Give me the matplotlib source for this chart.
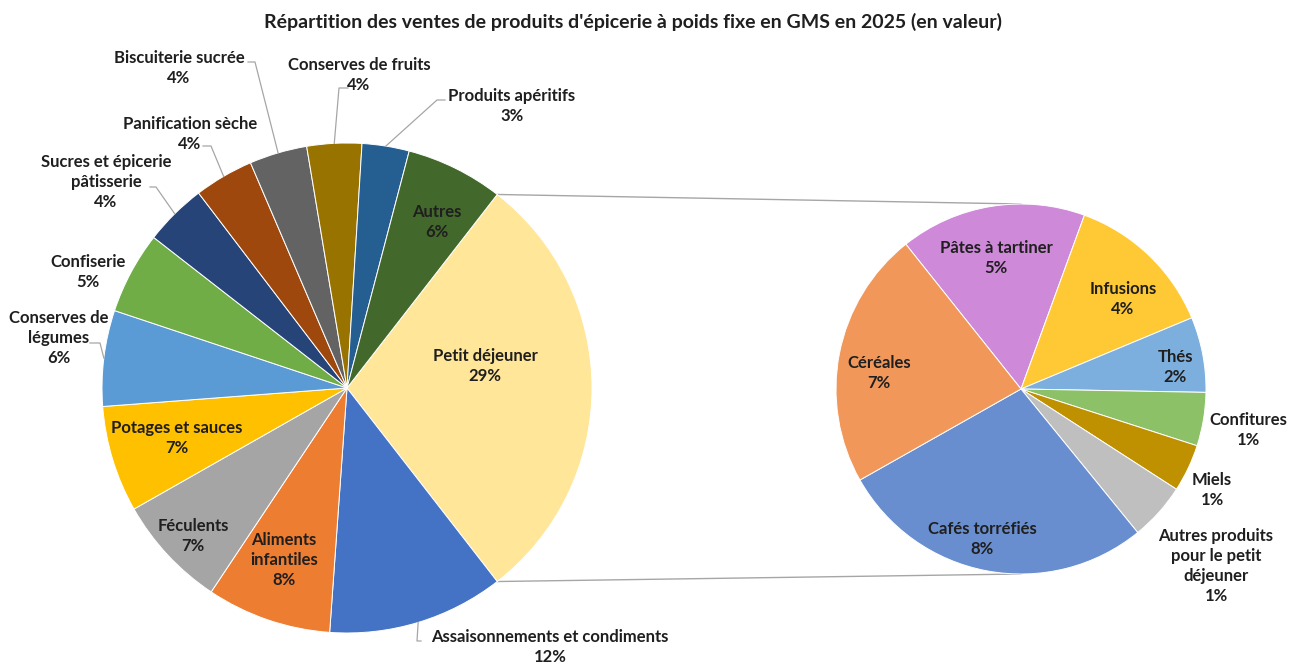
import matplotlib
matplotlib.use("Agg")
import matplotlib.pyplot as plt
import numpy as np

plt.rcParams['font.family'] = ['Lato', 'DejaVu Sans']
plt.rcParams['font.weight'] = 'bold'

W, H = 1289, 666
TXT = '#1f1f1f'

# détail du petit déjeuner (en % du total)
sub_labels = ["Pâtes à tartiner", "Infusions", "Thés", "Confitures", "Miels",
              "Autres produits\npour le petit\ndéjeuner", "Cafés torréfiés", "Céréales"]
sub_values = [4.7, 3.8, 1.9, 1.35, 1.2, 1.45, 8.0, 6.5]
sub_colors = ['#CE89D9', '#FFC935', '#7CAFDD', '#8CC168', '#BF9000',
              '#BFBFBF', '#698ED0', '#F1975A']

# camembert principal (le premier = Petit déjeuner)
main_labels = ["Petit déjeuner", "Assaisonnements et condiments", "Aliments\ninfantiles",
               "Féculents", "Potages et sauces", "Conserves de\nlégumes", "Confiserie",
               "Sucres et épicerie\npâtisserie", "Panification sèche", "Biscuiterie sucrée",
               "Conserves de fruits", "Produits apéritifs", "Autres"]
other_values = [11.6, 8.2, 7.4, 7.0, 6.3, 5.4, 4.1, 3.9, 3.8, 3.6, 3.1, 6.4]
main_values = [sum(sub_values)] + other_values
main_colors = ['#FFE699', '#4472C4', '#ED7D31', '#A5A5A5', '#FFC000', '#5B9BD5',
               '#70AD47', '#264478', '#9E480E', '#636363', '#997300', '#255E91', '#43682B']
total = sum(main_values)

# mise en page (coordonnées image, y vers le bas)
c1, r1 = (347, 388), 245
c2, r2 = (1021, 389), 185
main_pos = [(485, 366), (550, 647), (284, 560), (193, 536), (177, 438), (59, 338),
            (88, 272), (106, 182), (190, 134), (179, 68), (359, 75), (512, 106), (437, 222)]
sub_pos = [(996, 258), (1123, 299), (1175, 367), (1248, 430), (1212, 490),
           (1216, 566), (982, 539), (879, 373)]
# lignes de rappel : deux points côté étiquette, puis le milieu du secteur
leaders = {1: [(421, 641), (417, 641)],
           5: [(90, 343), (100, 343)],
           7: [(150, 187), (156, 187)],
           8: [(203, 146), (211, 146)],
           9: [(248, 62), (255, 62)],
           10: [(348, 88), (339, 88)],
           11: [(445, 100), (437, 100)]}


def fy(p):
    return (p[0], H - p[1])


fig = plt.figure(figsize=(W / 100, H / 100), dpi=100, facecolor='white')
ax = fig.add_axes([0, 0, 1, 1])
ax.set_xlim(0, W)
ax.set_ylim(0, H)
ax.set_aspect('equal')
ax.axis('off')

start1 = 180 * main_values[0] / total
w1, _ = ax.pie(main_values, colors=main_colors, center=fy(c1), radius=r1,
               startangle=start1, counterclock=False,
               wedgeprops=dict(edgecolor='white', linewidth=0.7))
w2, _ = ax.pie(sub_values, colors=sub_colors, center=fy(c2), radius=r2,
               startangle=128.5, counterclock=False,
               wedgeprops=dict(edgecolor='white', linewidth=0.7))
ax.set_xlim(0, W)
ax.set_ylim(0, H)

# liaisons entre les deux camemberts
pw = w1[0]
cx, cy = fy(c1)
for ang, sgn in [(pw.theta2, 1), (pw.theta1, -1)]:
    a = np.radians(ang)
    x0, y0 = cx + r1 * np.cos(a), cy + r1 * np.sin(a)
    x1, y1 = fy(c2)[0], fy(c2)[1] + sgn * r2
    ax.plot([x0, x1], [y0, y1], color='#A6A6A6', lw=1, zorder=0)

for i, lab in enumerate(main_labels):
    pct = main_values[i] / total * 100
    ax.text(*fy(main_pos[i]), f"{lab}\n{pct:.0f}%", ha='center', va='center',
            fontsize=12, color=TXT, linespacing=1.3)
    if i in leaders:
        w = w1[i]
        a = np.radians((w.theta1 + w.theta2) / 2)
        end = (cx + r1 * np.cos(a), cy + r1 * np.sin(a))
        pts = [fy(p) for p in leaders[i]] + [end]
        ax.plot([p[0] for p in pts], [p[1] for p in pts], color='#A6A6A6', lw=0.9)

for i, lab in enumerate(sub_labels):
    pct = sub_values[i] / total * 100
    ax.text(*fy(sub_pos[i]), f"{lab}\n{pct:.0f}%", ha='center', va='center',
            fontsize=12, color=TXT, linespacing=1.3)

ax.text(633, H - 22, "Répartition des ventes de produits d'épicerie à poids fixe en GMS en 2025 (en valeur)",
        ha='center', va='center', fontsize=14, color=TXT)

fig.savefig('out.png', dpi=100, facecolor='white')
